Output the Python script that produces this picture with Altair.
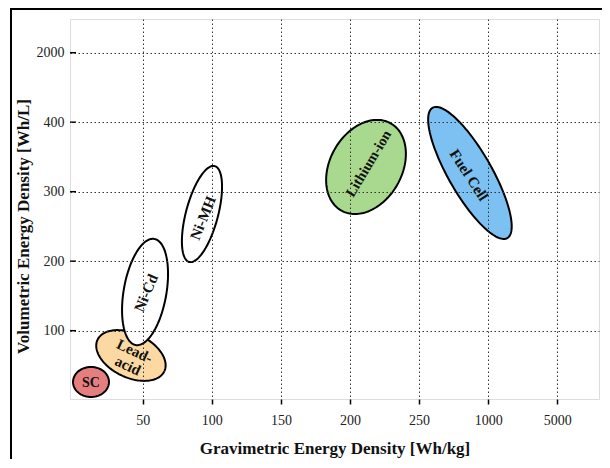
import altair as alt
import numpy as np
import pandas as pd

# ---- data ------------------------------------------------------------------
names = ["SC", "Lead-acid", "Ni-Cd", "Ni-MH", "Lithium-ion", "Fuel Cell"]
center_x = [12.6, 41.5, 51.7, 92.9, 211.6, 286.8]      # gravimetric axis position
center_y = [26.2, 64.3, 155.7, 267.9, 335.6, 327.0]    # volumetric axis position
spread_major = [0.26, 0.534, 0.775, 0.714, 0.722, 1.082]   # in tick steps
spread_minor = [0.216, 0.317, 0.309, 0.232, 0.52, 0.312]   # in tick steps
tilt_deg = [0, -25, 80, 75, 60, -60]
fill_colors = ["#E57F7F", "#FCD9A3", "#FFFFFF", "#FFFFFF", "#A9D98E", "#7DC1F2"]

label_text = ["SC", "Lead-\nacid", "Ni-Cd", "Ni-MH", "Lithium-ion", "Fuel Cell"]
label_x = [12.6, 44.2, 52.4, 93.6, 213.8, 286.1]
label_y = [24.7, 70.5, 154.3, 262.2, 340.0, 324.0]
label_angle = [0, 25, 293, 292, 301, 57]
label_bold = [True, True, False, False, True, True]
label_fontsize = [14, 15, 15, 15, 14.5, 15]

x_tick_pos = [50, 100, 150, 200, 250, 300, 350]
x_tick_labels = ["50", "100", "150", "200", "250", "1000", "5000"]
y_tick_pos = [100, 200, 300, 400, 500]
y_tick_labels = ["100", "200", "300", "400", "2000"]

X_STEP = 50
Y_STEP = 100
X_DOMAIN = [-2.6, 380.2]
Y_DOMAIN = [1.7, 548.5]
W, H = 529, 380
SERIF = "Liberation Serif"

# ---- build ellipse outlines ------------------------------------------------
rows = []
t = np.linspace(0, 2 * np.pi, 145)
for n, cx, cy, a, b, th in zip(names, center_x, center_y, spread_major, spread_minor, tilt_deg):
    r = np.deg2rad(th)
    u = a * np.cos(t)
    v = b * np.sin(t)
    xs = cx + (u * np.cos(r) - v * np.sin(r)) * X_STEP
    ys = cy + (u * np.sin(r) + v * np.cos(r)) * Y_STEP
    for k, (xx, yy) in enumerate(zip(xs, ys)):
        rows.append({"name": n, "idx": k, "x": xx, "y": yy})
ell = pd.DataFrame(rows)

labels = pd.DataFrame({"text": label_text, "x": label_x, "y": label_y,
                       "angle": label_angle, "bold": label_bold,
                       "fs": label_fontsize})

def js_list(vals, quote):
    return "[" + ",".join((f"'{v}'" if quote else str(v)) for v in vals) + "]"

x_expr = f"{js_list(x_tick_labels, True)}[indexof({js_list(x_tick_pos, False)}, datum.value)]"
y_expr = f"{js_list(y_tick_labels, True)}[indexof({js_list(y_tick_pos, False)}, datum.value)]"

grid_style = dict(grid=True, gridDash=[1.5, 2.5], gridColor="#333333", gridWidth=1,
                  domain=False, labelFont=SERIF, labelFontSize=14, labelColor="#222222",
                  titleFont=SERIF, titleFontSize=17, titleFontWeight="bold",
                  titleColor="#111111", zindex=1, labelOverlap=False)

x_axis = alt.Axis(values=x_tick_pos, labelExpr=x_expr,
                  title="Gravimetric Energy Density [Wh/kg]",
                  ticks=True, tickSize=5, tickWidth=1.5, tickColor="black",
                  labelPadding=9, titleY=54, titleBaseline="alphabetic",
                  **grid_style)
y_axis = alt.Axis(values=y_tick_pos, labelExpr=y_expr,
                  title="Volumetric Energy Density [Wh/L]",
                  ticks=False, labelPadding=6, titleX=-47, titleY=207,
                  titleBaseline="middle", **grid_style)

X = alt.X("x:Q", scale=alt.Scale(domain=X_DOMAIN, nice=False, zero=False), axis=x_axis)
Y = alt.Y("y:Q", scale=alt.Scale(domain=Y_DOMAIN, nice=False, zero=False), axis=y_axis)

layers = []
for n, col in zip(names, fill_colors):
    layers.append(
        alt.Chart(ell[ell["name"] == n])
        .mark_line(stroke="black", strokeWidth=2, fill=col, fillOpacity=1)
        .encode(x=X, y=Y, order="idx:Q")
    )

for bold in (True, False):
    layers.append(
        alt.Chart(labels[labels["bold"] == bold])
        .mark_text(font=SERIF, fontWeight="bold" if bold else 600,
                   lineBreak="\n", lineHeight=16, color="#111111")
        .encode(x=X, y=Y, text="text:N",
                angle=alt.Angle("angle:Q", scale=None),
                size=alt.Size("fs:Q", scale=None, legend=None))
    )

# inward ticks on the y axis
yt = pd.DataFrame({"y": y_tick_pos})
layers.append(
    alt.Chart(yt).mark_rule(stroke="black", strokeWidth=1.5)
    .encode(y=Y, x=alt.value(0), x2=alt.value(6))
)

# outer figure frame
frame = pd.DataFrame({"a": [0]})
layers.append(alt.Chart(frame).mark_rule(stroke="black", strokeWidth=2)
              .encode(x=alt.value(-59), y=alt.value(-11), y2=alt.value(447)))
layers.append(alt.Chart(frame).mark_rule(stroke="black", strokeWidth=2)
              .encode(y=alt.value(-10), x=alt.value(-60), x2=alt.value(540)))

chart = (
    alt.layer(*layers)
    .properties(width=W, height=H,
                autosize=alt.AutoSizeParams(type="none"),
                padding={"left": 62, "top": 11, "right": 3, "bottom": 60})
    .configure_view(stroke="#8c8c8c", strokeWidth=1)
    .configure(background="white")
)

chart.save("out.html", embed_options={"renderer": "svg", "actions": False})
